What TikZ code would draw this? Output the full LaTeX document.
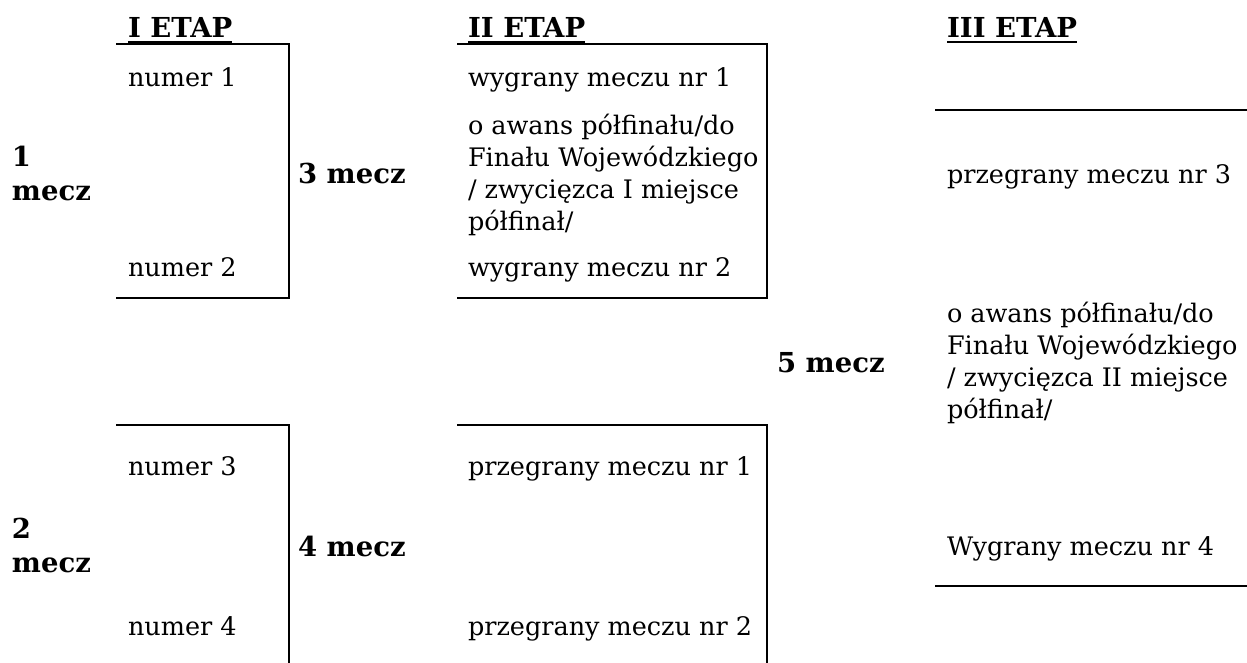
\documentclass[tikz,border=0pt]{standalone}
\usepackage{fontspec}
\setmainfont{DejaVu Serif}
\begin{document}
\begin{tikzpicture}[x=1pt,y=-1pt,
  txt/.style={anchor=base west,inner sep=0pt,outer sep=0pt,align=left,font=\fontsize{25.5}{32}\selectfont},
  btxt/.style={txt,font=\fontsize{27.5}{33.5}\selectfont\bfseries},
  head/.style={btxt},
  bracket/.style={line width=2.3pt,line cap=rect}]
\useasboundingbox (0,0) rectangle (1247,662);
% headings
\node[head] (h1) at (128,37) {I ETAP};
\node[head] (h2) at (468,37) {II ETAP};
\node[head] (h3) at (947,37) {III ETAP};
\foreach \h in {h1,h2,h3}{\draw[line width=1.8pt] ([yshift=-5pt]\h.base west) -- ([yshift=-5pt]\h.base east);}
% bracket coordinates
\coordinate (a1) at (117,44); \coordinate (a2) at (289,44);
\coordinate (a3) at (289,298); \coordinate (a4) at (117,298);
\coordinate (b1) at (458,44); \coordinate (b2) at (767,44);
\coordinate (b3) at (767,298); \coordinate (b4) at (458,298);
\coordinate (c1) at (117,425); \coordinate (c2) at (289,425); \coordinate (c3) at (289,662);
\coordinate (d1) at (458,425); \coordinate (d2) at (767,425); \coordinate (d3) at (767,662);
\coordinate (e1) at (936,110); \coordinate (e2) at (1247,110);
\coordinate (f1) at (936,586); \coordinate (f2) at (1247,586);
\draw[bracket] (a1) -- (a2) -- (a3) -- (a4);
\draw[bracket] (b1) -- (b2) -- (b3) -- (b4);
\draw[bracket] (c1) -- (c2) -- (c3);
\draw[bracket] (d1) -- (d2) -- (d3);
\draw[bracket] (e1) -- (e2);
\draw[bracket] (f1) -- (f2);
% stage I (multi-line nodes: base = last line)
\node[txt] (n1) at (128,86) {numer 1};
\node[txt] (n2) at (128,276) {numer 2};
\node[txt] (n3) at (128,475) {numer 3};
\node[txt] (n4) at (128,635) {numer 4};
\node[btxt] (m1) at (12,200) {1\\mecz};
\node[btxt] (m2) at (12,572) {2\\mecz};
\node[btxt] (m3) at (298,183) {3 mecz};
\node[btxt] (m4) at (298,556) {4 mecz};
\node[btxt] (m5) at (777,372) {5 mecz};
% stage II
\node[txt] (w1) at (468,86) {wygrany meczu nr 1};
\node[txt] (aw1) at (468,230) {o awans półfinału/do\\Finału Wojewódzkiego\\/ zwycięzca I miejsce\\półfinał/};
\node[txt] (w2) at (468,276) {wygrany meczu nr 2};
\node[txt] (p1) at (468,475) {przegrany meczu nr 1};
\node[txt] (p2) at (468,635) {przegrany meczu nr 2};
% stage III
\node[txt] (p3) at (947,183) {przegrany meczu nr 3};
\node[txt] (aw2) at (947,418) {o awans półfinału/do\\Finału Wojewódzkiego\\/ zwycięzca II miejsce\\półfinał/};
\node[txt] (w4) at (947,555) {Wygrany meczu nr 4};
\end{tikzpicture}
\end{document}
